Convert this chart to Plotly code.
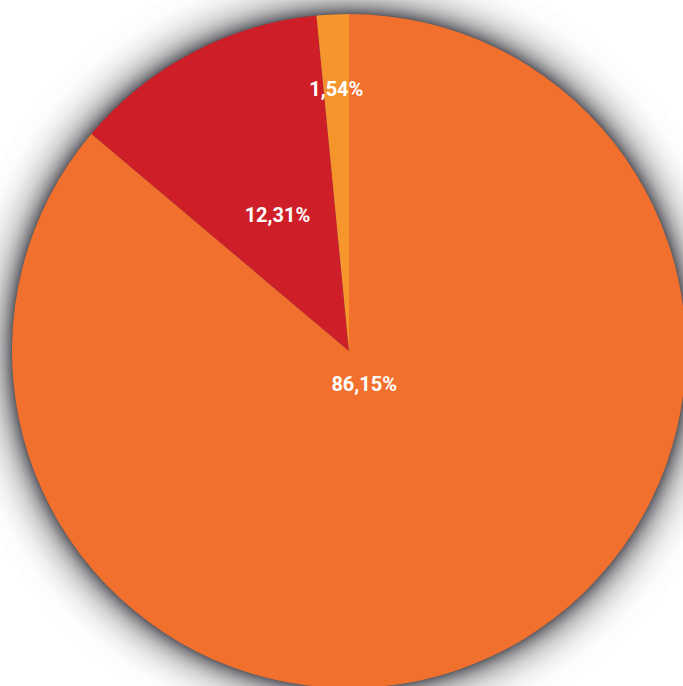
import math
import plotly.graph_objects as go

# ---- data ----
labels = ["A", "B", "C"]
values = [86.15, 12.31, 1.54]
colors = ["#F2702D", "#CE1F28", "#F6952B"]

W, H = 700, 704
ML, MT = 12, 14
R = 337
PW = 2 * R

FONT = dict(family="Roboto, Liberation Sans, sans-serif", size=20, color="white", weight="bold")

fig = go.Figure()
# main pie (no text)
fig.add_trace(go.Pie(
    labels=labels, values=values, sort=False, direction="clockwise", rotation=0,
    marker=dict(colors=colors, line=dict(width=0)),
    textinfo="none", hoverinfo="label+value", showlegend=False,
    domain=dict(x=[0, 1], y=[0, 1]),
))

# transparent overlay pies carrying the labels (one label each, radial placement via domain size)
label_radius = [72, 212, 275]
for i, rr in enumerate(label_radius):
    txt = ["" for _ in values]
    txt[i] = f"{values[i]:.2f}%".replace(".", ",")
    f = rr / PW
    fig.add_trace(go.Pie(
        labels=labels, values=values, sort=False, direction="clockwise", rotation=0,
        marker=dict(colors=["rgba(0,0,0,0)"] * len(values), line=dict(width=0)),
        text=txt, texttemplate="%{text}", textposition="inside",
        insidetextorientation="horizontal", textfont=FONT,
        hoverinfo="skip", showlegend=False,
        domain=dict(x=[0.5 - f, 0.5 + f], y=[0.5 - f, 0.5 + f]),
    ))

# soft shadow rings
shapes = []
N = 60
def target(d):
    return 0.8 * math.exp(-d / 14.0)
for k in range(N, -1, -1):
    Ak = target(k)
    Ak1 = target(k + 1) if k < N else 0.0
    a = 1 - (1 - Ak) / (1 - Ak1)
    rr = (R + k) / PW
    shapes.append(dict(type="circle", xref="paper", yref="paper",
                       x0=0.5 - rr, x1=0.5 + rr, y0=0.5 - rr, y1=0.5 + rr,
                       fillcolor="#34343f", opacity=max(a, 0), line=dict(width=0),
                       layer="below"))

fig.update_layout(
    width=W, height=H, autosize=False,
    margin=dict(l=ML, t=MT, r=W - ML - PW, b=H - MT - PW),
    paper_bgcolor="white", plot_bgcolor="white",
    uniformtext=dict(minsize=20, mode="show"),
    shapes=shapes,
)

fig.write_html("out.html", config={"displayModeBar": False},
               post_script="document.body.style.margin='0';document.body.style.overflow='hidden';document.documentElement.style.overflow='hidden';")
